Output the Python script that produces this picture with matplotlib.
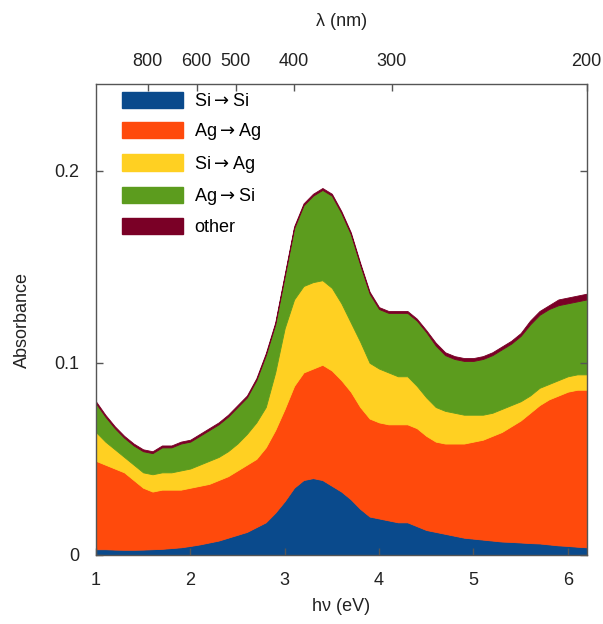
import matplotlib
matplotlib.use("Agg")
import matplotlib.pyplot as plt
from matplotlib.patches import Patch
import numpy as np

plt.rcParams['font.family'] = ['Liberation Sans', 'DejaVu Sans']
plt.rcParams['mathtext.fontset'] = 'dejavusans'

# Photon energy grid (eV)
energy = [1.0, 1.1, 1.2, 1.3, 1.4, 1.5, 1.6, 1.7, 1.8, 1.9,
          2.0, 2.1, 2.2, 2.3, 2.4, 2.5, 2.6, 2.7, 2.8, 2.9,
          3.0, 3.1, 3.2, 3.3, 3.4, 3.5, 3.6, 3.7, 3.8, 3.9,
          4.0, 4.1, 4.2, 4.3, 4.4, 4.5, 4.6, 4.7, 4.8, 4.9,
          5.0, 5.1, 5.2, 5.3, 5.4, 5.5, 5.6, 5.7, 5.8, 5.9,
          6.0, 6.1, 6.2]

# Absorbance contributions of each transition channel
si_si = [0.003, 0.003, 0.0028, 0.0027, 0.0027, 0.0028, 0.003, 0.0032, 0.0036, 0.004,
         0.0047, 0.0055, 0.0065, 0.0075, 0.009, 0.0105, 0.012, 0.0145, 0.017, 0.022,
         0.028, 0.035, 0.039, 0.040, 0.039, 0.036, 0.033, 0.029, 0.024, 0.020,
         0.019, 0.018, 0.017, 0.017, 0.015, 0.013, 0.012, 0.011, 0.010, 0.009,
         0.0085, 0.008, 0.0075, 0.007, 0.0068, 0.0065, 0.0062, 0.006, 0.0055, 0.005,
         0.0047, 0.0043, 0.004]
ag_ag = [0.046, 0.044, 0.0422, 0.0403, 0.0363, 0.0322, 0.030, 0.0308, 0.0304, 0.030,
         0.0303, 0.0305, 0.0305, 0.0315, 0.032, 0.0335, 0.035, 0.0355, 0.039, 0.043,
         0.048, 0.053, 0.056, 0.057, 0.060, 0.060, 0.058, 0.056, 0.053, 0.051,
         0.050, 0.050, 0.051, 0.051, 0.051, 0.049, 0.047, 0.047, 0.048, 0.049,
         0.0505, 0.052, 0.0545, 0.057, 0.0602, 0.0635, 0.0678, 0.072, 0.0755, 0.078,
         0.0803, 0.0817, 0.082]
si_ag = [0.015, 0.012, 0.010, 0.008, 0.008, 0.008, 0.009, 0.009, 0.009, 0.010,
         0.010, 0.011, 0.012, 0.012, 0.013, 0.014, 0.016, 0.019, 0.021, 0.030,
         0.042, 0.045, 0.045, 0.045, 0.044, 0.043, 0.040, 0.036, 0.034, 0.029,
         0.028, 0.027, 0.025, 0.025, 0.022, 0.020, 0.018, 0.017, 0.016, 0.015,
         0.014, 0.013, 0.012, 0.012, 0.011, 0.010, 0.009, 0.009, 0.008, 0.008,
         0.008, 0.008, 0.008]
ag_si = [0.015, 0.013, 0.011, 0.010, 0.010, 0.011, 0.011, 0.013, 0.013, 0.014,
         0.014, 0.015, 0.016, 0.017, 0.018, 0.019, 0.019, 0.022, 0.027, 0.025,
         0.027, 0.037, 0.042, 0.045, 0.047, 0.048, 0.047, 0.046, 0.040, 0.036,
         0.031, 0.031, 0.033, 0.033, 0.034, 0.034, 0.032, 0.029, 0.028, 0.028,
         0.028, 0.029, 0.030, 0.031, 0.032, 0.034, 0.037, 0.038, 0.039, 0.039,
         0.038, 0.038, 0.039]
other = [0.001, 0.001, 0.001, 0.001, 0.001, 0.001, 0.001, 0.001, 0.001, 0.001,
         0.001, 0.001, 0.001, 0.001, 0.001, 0.001, 0.001, 0.001, 0.001, 0.001,
         0.001, 0.001, 0.001, 0.001, 0.001, 0.001, 0.001, 0.001, 0.001, 0.001,
         0.001, 0.001, 0.001, 0.001, 0.001, 0.001, 0.0015, 0.0015, 0.0015, 0.0015,
         0.0015, 0.0015, 0.0015, 0.0015, 0.0015, 0.0015, 0.002, 0.002, 0.002, 0.003,
         0.003, 0.003, 0.003]

labels = ["Si$\\rightarrow$Si", "Ag$\\rightarrow$Ag", "Si$\\rightarrow$Ag",
          "Ag$\\rightarrow$Si", "other"]
colors = ["#0a4a8c", "#ff4a0c", "#ffd022", "#5c9c1e", "#7a0026"]

# Wavelength ticks for the top axis (nm)
wavelengths = [800, 600, 500, 400, 300, 200]
HC = 1239.84  # eV*nm

fig = plt.figure(figsize=(6.03, 6.24), dpi=100)
ax = fig.add_axes([0.159, 0.1106, 0.814, 0.7544])

x = np.array(energy)
layers = [si_si, ag_ag, si_ag, ag_si, other]
base = np.zeros_like(x)
for vals, col in zip(layers, colors):
    top = base + np.array(vals)
    ax.fill_between(x, base, top, facecolor=col, edgecolor=col, linewidth=0.6)
    base = top

ax.set_xlim(1.0, 6.2)
ax.set_ylim(0, 0.245)
ax.set_xticks([1, 2, 3, 4, 5, 6])
ax.set_yticks([0, 0.1, 0.2])
ax.set_yticklabels(["0", "0.1", "0.2"])

spine_col = "#555555"
text_col = "#222222"
for s in ax.spines.values():
    s.set_color(spine_col)
    s.set_linewidth(1.0)
ax.tick_params(direction="in", length=5, width=1, color=spine_col,
               labelsize=13, pad=12, right=True, labelcolor=text_col)

ax.set_xlabel("h\u03bd (eV)", fontsize=13, color=text_col, labelpad=7)
ax.set_ylabel("Absorbance", fontsize=13, color=text_col, labelpad=17)

top_ax = ax.twiny()
top_ax.set_xlim(ax.get_xlim())
top_ax.set_xticks([HC / w for w in wavelengths])
top_ax.set_xticklabels([str(w) for w in wavelengths])
top_ax.tick_params(direction="in", length=5, width=1, color=spine_col,
                   labelsize=13, pad=10, labelcolor=text_col)
for s in top_ax.spines.values():
    s.set_visible(False)
top_ax.set_xlabel("\u03bb (nm)", fontsize=13, color=text_col, labelpad=20)

handles = [Patch(facecolor=c, edgecolor=c, label=l) for c, l in zip(colors, labels)]
ax.legend(handles=handles, loc="upper left", bbox_to_anchor=(0.02, 1.018),
          frameon=False, fontsize=13, handlelength=3.4, handleheight=1.0,
          labelspacing=0.62, handletextpad=0.6)

fig.savefig("out.png", dpi=100)
